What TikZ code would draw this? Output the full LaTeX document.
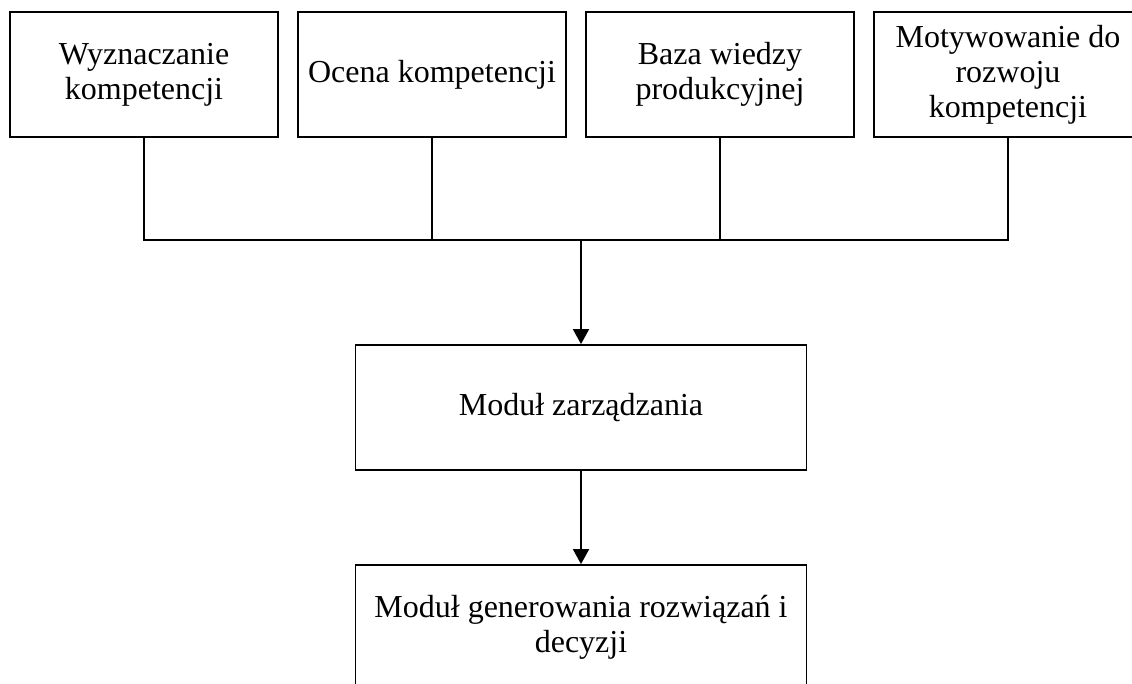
\documentclass[tikz,border=0pt]{standalone}
\usepackage{fontspec}
\setmainfont{Liberation Serif}
\usetikzlibrary{arrows.meta}

\tikzset{
  block/.style={draw=black, line width=1.8pt, fill=white, align=center,
    inner sep=0pt, font=\fontsize{32}{35}\selectfont},
  topbox/.style={block, minimum width=268pt, minimum height=125pt},
  modbox/.style={block, minimum width=451pt, minimum height=125pt},
  wire/.style={draw=black, line width=1.8pt},
  flow/.style={wire, -{Triangle[length=15pt,width=16pt]}}
}

\begin{document}
\begin{tikzpicture}[x=1pt,y=-1pt]
  \useasboundingbox (0,0) rectangle (1132,684);
  \fill[white] (0,0) rectangle (1132,684);
  \clip (0,0) rectangle (1132,684);

  % source blocks
  \node[topbox] (wyz) at (144,74.5) {Wyznaczanie\\kompetencji};
  \node[topbox] (oce) at (432,74.5) {Ocena kompetencji};
  \node[topbox] (baz) at (720,74.5) {Baza wiedzy\\produkcyjnej};
  \node[topbox] (mot) at (1008,74.5) {Motywowanie do\\rozwoju\\kompetencji};

  % processing modules
  \node[modbox] (zarz) at (581,407.5) {Moduł zarządzania};
  \node[modbox] (gen) at (581,627.5) {Moduł generowania rozwiązań i\\decyzji};

  % collecting bus
  \coordinate (bus) at (581,240);
  \draw[wire] (wyz.south) |- (bus) -| (mot.south);
  \draw[wire] (oce.south) -- (oce.south |- bus);
  \draw[wire] (baz.south) -- (baz.south |- bus);

  % flow between modules
  \draw[flow] (bus) -- (zarz.north);
  \draw[flow] (zarz.south) -- (gen.north);
\end{tikzpicture}
\end{document}
